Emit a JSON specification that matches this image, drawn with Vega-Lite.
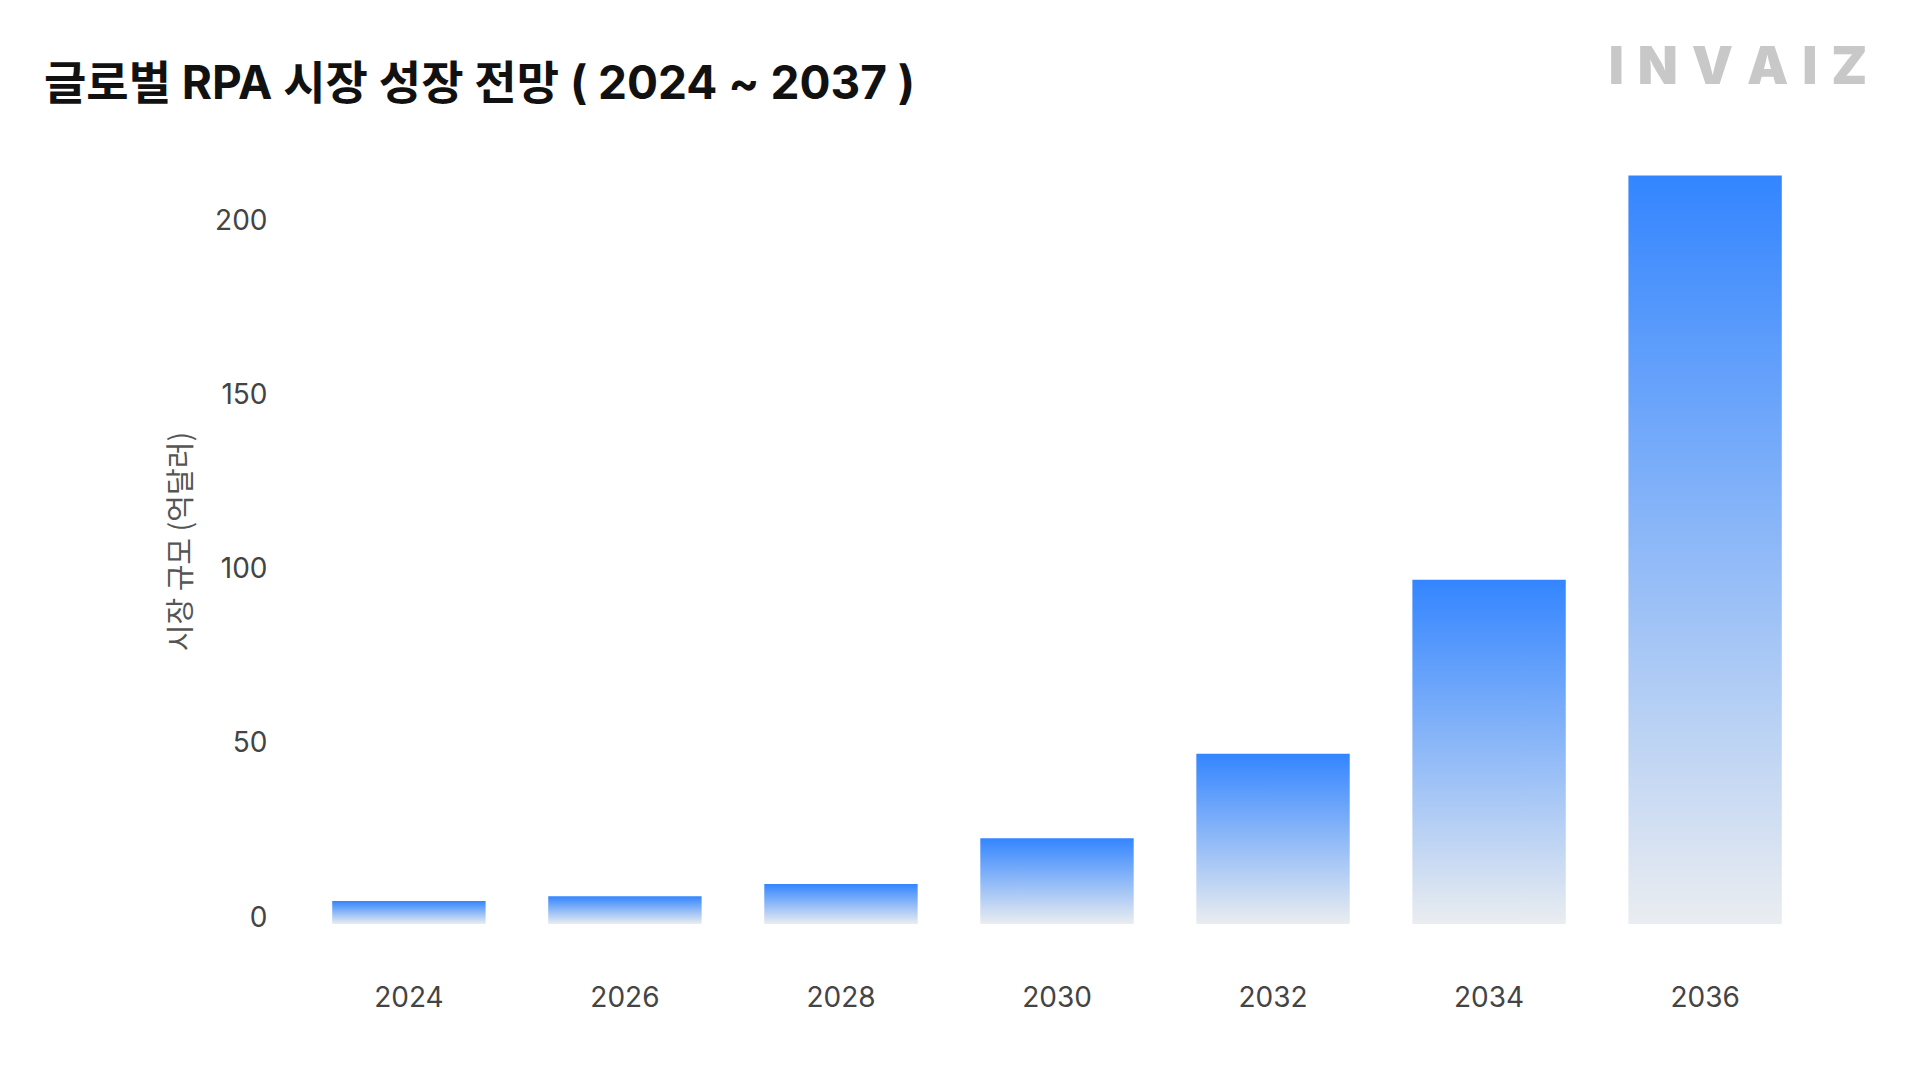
{
  "$schema": "https://vega.github.io/schema/vega-lite/v6.json",
  "description": "Global RPA market outlook 2024-2037, bars with a blue-to-grey gradient.",
  "width": 1536,
  "height": 766,
  "autosize": {"type": "none"},
  "padding": {"left": 289, "top": 158, "right": 89, "bottom": 152},
  "background": "white",
  "title": {
    "text": "글로벌 RPA 시장 성장 전망 ( 2024 ~ 2037 )",
    "anchor": "start",
    "frame": "group",
    "dx": -245,
    "dy": 160,
    "offset": 57,
    "baseline": "alphabetic",
    "font": "Inter, Noto Sans CJK KR",
    "fontSize": 46,
    "fontWeight": "bold",
    "color": "#111111"
  },
  "config": {
    "view": {"stroke": null},
    "axis": {
      "domain": false,
      "ticks": false,
      "tickSize": 0,
      "grid": false,
      "labelFont": "Inter",
      "labelFontSize": 28,
      "labelColor": "#444444"
    }
  },
  "layer": [
    {
      "data": {
        "values": [
          {"year": "2024", "size": 6.6},
          {"year": "2026", "size": 8.0},
          {"year": "2028", "size": 11.5},
          {"year": "2030", "size": 24.6},
          {"year": "2032", "size": 48.9},
          {"year": "2034", "size": 98.9},
          {"year": "2036", "size": 215}
        ]
      },
      "mark": {
        "type": "bar",
        "color": {
          "gradient": "linear",
          "x1": 0, "y1": 0, "x2": 0, "y2": 1,
          "stops": [
            {"offset": 0, "color": "#3385FF"},
            {"offset": 1, "color": "#EAEDF0"}
          ]
        }
      },
      "encoding": {
        "x": {
          "field": "year",
          "type": "nominal",
          "scale": {"paddingInner": 0.29, "paddingOuter": 0.2},
          "axis": {"title": null, "labelAngle": 0, "labelPadding": 60}
        },
        "y": {
          "field": "size",
          "type": "quantitative",
          "scale": {"domain": [0, 220], "nice": false},
          "axis": {
            "title": "시장 규모 (억달러)",
            "titleFont": "Noto Sans CJK KR",
            "titleFontWeight": "normal",
            "titleFontSize": 29,
            "titleColor": "#555555",
            "titlePadding": 18,
            "values": [0, 50, 100, 150, 200],
            "labelPadding": 22,
            "labelOffset": -6
          }
        }
      }
    },
    {
      "data": {"values": [{"brand": "I \u200aN \u200aV \u200aA \u200aI \u200aZ"}]},
      "mark": {
        "type": "text",
        "font": "Inter",
        "fontSize": 52,
        "fontWeight": 900,
        "color": "#C8C8C8",
        "align": "center",
        "baseline": "middle",
        "dx": 33
      },
      "encoding": {
        "x": {"datum": "2036"},
        "y": {"datum": 245.8},
        "text": {"field": "brand"}
      }
    }
  ]
}
